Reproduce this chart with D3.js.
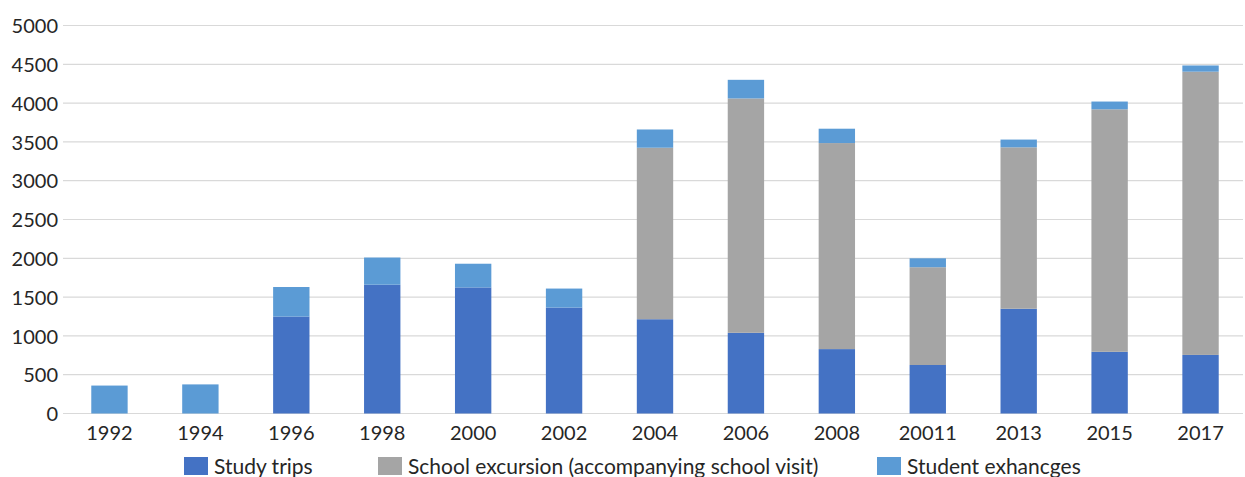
<!DOCTYPE html>
<html><head><meta charset="utf-8">
<script src="https://cdn.jsdelivr.net/npm/d3@7"></script>
<style>body{margin:0;background:#fff}svg{display:block}text{font-family:Lato,"Open Sans",sans-serif;fill:#262626}</style>
</head><body><svg id="c" width="1245" height="477"></svg>
<script>
const categories = ["1992","1994","1996","1998","2000","2002","2004","2006","2008","20011","2013","2015","2017"];
const studyTrips = [0,0,1250,1660,1625,1365,1215,1040,830,625,1350,795,755];
const schoolExcursion = [0,0,0,0,0,0,2210,3020,2655,1260,2080,3125,3650];
const studentExchanges = [360,375,380,350,305,245,235,240,185,115,100,100,80];
const yTicks = [0,500,1000,1500,2000,2500,3000,3500,4000,4500,5000];
const seriesNames = ["Study trips","School excursion (accompanying school visit)","Student exhancges"];
const colors = ["#4472C4","#A5A5A5","#5B9BD5"];

const svg = d3.select("#c");
const x = d3.scaleBand().domain(categories).range([64,1246]).paddingInner(0.6).paddingOuter(0.3);
const y = d3.scaleLinear().domain([0,5000]).range([413.5,25.5]);

svg.append("g").selectAll("line").data(yTicks).join("line")
  .attr("x1",63).attr("x2",1243).attr("y1",d=>y(d)).attr("y2",d=>y(d))
  .attr("stroke","#d9d9d9").attr("stroke-width",1.2);

const data = categories.map((c,i)=>({cat:c, s0:studyTrips[i], s1:schoolExcursion[i], s2:studentExchanges[i]}));
const stack = d3.stack().keys(["s0","s1","s2"])(data);
svg.append("g").selectAll("g").data(stack).join("g").attr("fill",(d,i)=>colors[i])
  .selectAll("rect").data(d=>d).join("rect")
  .attr("x",d=>x(d.data.cat)).attr("width",x.bandwidth())
  .attr("y",d=>y(d[1])).attr("height",d=>Math.max(0,y(d[0])-y(d[1])));

const yAxis = svg.append("g").attr("transform","translate(58,0)")
  .call(d3.axisLeft(y).tickValues(yTicks).tickSize(0).tickPadding(0).tickFormat(d3.format("d")));
yAxis.select(".domain").remove();
yAxis.selectAll("text").style("font-size","20px").attr("fill","#262626").attr("dy","0.36em");

const xAxis = svg.append("g").attr("transform","translate(0,413.5)")
  .call(d3.axisBottom(x).tickSize(0).tickPadding(12));
xAxis.select(".domain").remove();
xAxis.selectAll("text").style("font-size","20px").attr("fill","#262626");

const legendX = [184,378,877];
const lg = svg.append("g").selectAll("g").data(seriesNames).join("g")
  .attr("transform",(d,i)=>`translate(${legendX[i]},457)`);
lg.append("rect").attr("width",24).attr("height",18).attr("fill",(d,i)=>colors[i]);
lg.append("text").attr("x",30).attr("y",9).attr("dy","0.36em").style("font-size","21px").text(d=>d);
</script></body></html>
